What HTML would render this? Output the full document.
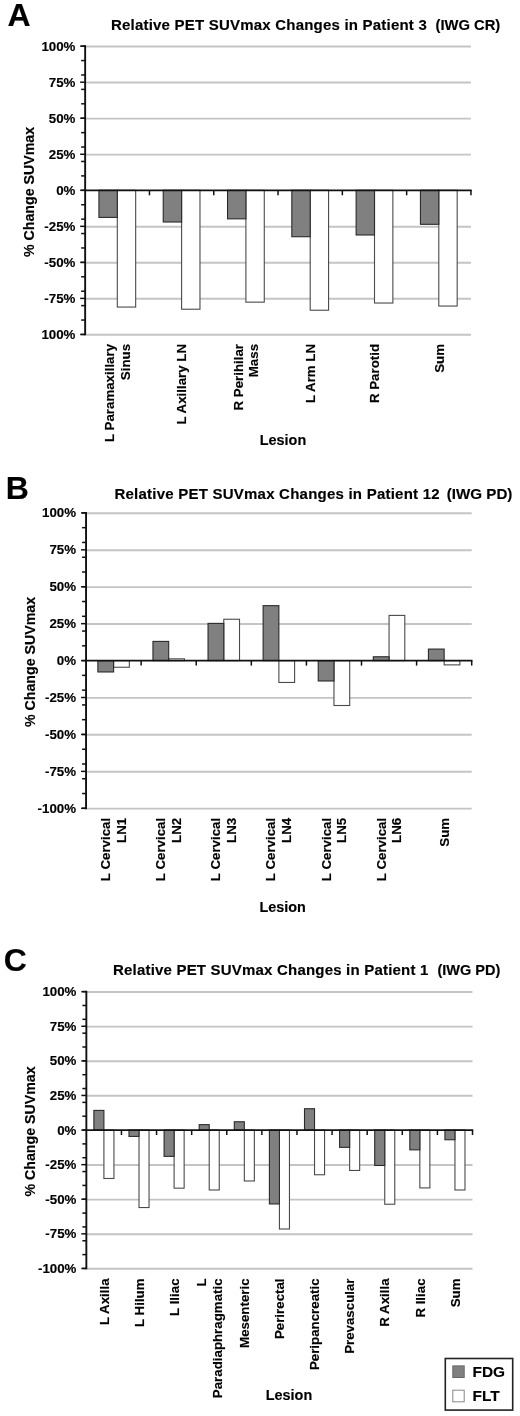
<!DOCTYPE html>
<html><head><meta charset="utf-8"><title>Relative PET SUVmax Changes</title>
<style>
html,body{margin:0;padding:0;background:#fff;}
body{width:520px;height:1416px;overflow:hidden;}
svg{display:block;font-family:"Liberation Sans", sans-serif;will-change:transform;}
svg text{fill:#000;stroke:#000;stroke-width:0.15px;}
</style></head>
<body>
<svg width="520" height="1416" viewBox="0 0 520 1416">
<rect x="0" y="0" width="520" height="1416" fill="#fff"/>
<line x1="85.15" y1="46.50" x2="470.95" y2="46.50" stroke="#c4c4c4" stroke-width="1.9"/>
<line x1="85.15" y1="82.54" x2="470.95" y2="82.54" stroke="#c4c4c4" stroke-width="1.9"/>
<line x1="85.15" y1="118.58" x2="470.95" y2="118.58" stroke="#c4c4c4" stroke-width="1.9"/>
<line x1="85.15" y1="154.61" x2="470.95" y2="154.61" stroke="#c4c4c4" stroke-width="1.9"/>
<line x1="85.15" y1="226.69" x2="470.95" y2="226.69" stroke="#c4c4c4" stroke-width="1.9"/>
<line x1="85.15" y1="262.73" x2="470.95" y2="262.73" stroke="#c4c4c4" stroke-width="1.9"/>
<line x1="85.15" y1="298.76" x2="470.95" y2="298.76" stroke="#c4c4c4" stroke-width="1.9"/>
<line x1="85.15" y1="334.80" x2="470.95" y2="334.80" stroke="#c4c4c4" stroke-width="1.9"/>
<rect x="117.30" y="190.30" width="18.37" height="116.76" fill="#ffffff" stroke="#4a4a4a" stroke-width="1.1"/>
<rect x="98.93" y="190.30" width="18.37" height="27.10" fill="#808080" stroke="#2a2a2a" stroke-width="1.1"/>
<rect x="181.60" y="190.30" width="18.37" height="118.92" fill="#ffffff" stroke="#4a4a4a" stroke-width="1.1"/>
<rect x="163.23" y="190.30" width="18.37" height="31.71" fill="#808080" stroke="#2a2a2a" stroke-width="1.1"/>
<rect x="245.90" y="190.30" width="18.37" height="111.86" fill="#ffffff" stroke="#4a4a4a" stroke-width="1.1"/>
<rect x="227.53" y="190.30" width="18.37" height="28.54" fill="#808080" stroke="#2a2a2a" stroke-width="1.1"/>
<rect x="310.20" y="190.30" width="18.37" height="119.93" fill="#ffffff" stroke="#4a4a4a" stroke-width="1.1"/>
<rect x="291.83" y="190.30" width="18.37" height="46.42" fill="#808080" stroke="#2a2a2a" stroke-width="1.1"/>
<rect x="374.50" y="190.30" width="18.37" height="112.73" fill="#ffffff" stroke="#4a4a4a" stroke-width="1.1"/>
<rect x="356.13" y="190.30" width="18.37" height="44.69" fill="#808080" stroke="#2a2a2a" stroke-width="1.1"/>
<rect x="438.80" y="190.30" width="18.37" height="115.75" fill="#ffffff" stroke="#4a4a4a" stroke-width="1.1"/>
<rect x="420.43" y="190.30" width="18.37" height="34.02" fill="#808080" stroke="#2a2a2a" stroke-width="1.1"/>
<line x1="85.15" y1="45.25" x2="85.15" y2="335.35" stroke="#111" stroke-width="1.9"/>
<line x1="81.15" y1="334.45" x2="85.15" y2="334.45" stroke="#111" stroke-width="1.5"/>
<line x1="81.15" y1="320.04" x2="85.15" y2="320.04" stroke="#111" stroke-width="1.5"/>
<line x1="81.15" y1="305.62" x2="85.15" y2="305.62" stroke="#111" stroke-width="1.5"/>
<line x1="81.15" y1="291.21" x2="85.15" y2="291.21" stroke="#111" stroke-width="1.5"/>
<line x1="81.15" y1="276.79" x2="85.15" y2="276.79" stroke="#111" stroke-width="1.5"/>
<line x1="81.15" y1="262.38" x2="85.15" y2="262.38" stroke="#111" stroke-width="1.5"/>
<line x1="81.15" y1="247.96" x2="85.15" y2="247.96" stroke="#111" stroke-width="1.5"/>
<line x1="81.15" y1="233.55" x2="85.15" y2="233.55" stroke="#111" stroke-width="1.5"/>
<line x1="81.15" y1="219.13" x2="85.15" y2="219.13" stroke="#111" stroke-width="1.5"/>
<line x1="81.15" y1="204.72" x2="85.15" y2="204.72" stroke="#111" stroke-width="1.5"/>
<line x1="81.15" y1="190.30" x2="85.15" y2="190.30" stroke="#111" stroke-width="1.5"/>
<line x1="81.15" y1="175.89" x2="85.15" y2="175.89" stroke="#111" stroke-width="1.5"/>
<line x1="81.15" y1="161.47" x2="85.15" y2="161.47" stroke="#111" stroke-width="1.5"/>
<line x1="81.15" y1="147.06" x2="85.15" y2="147.06" stroke="#111" stroke-width="1.5"/>
<line x1="81.15" y1="132.64" x2="85.15" y2="132.64" stroke="#111" stroke-width="1.5"/>
<line x1="81.15" y1="118.23" x2="85.15" y2="118.23" stroke="#111" stroke-width="1.5"/>
<line x1="81.15" y1="103.81" x2="85.15" y2="103.81" stroke="#111" stroke-width="1.5"/>
<line x1="81.15" y1="89.40" x2="85.15" y2="89.40" stroke="#111" stroke-width="1.5"/>
<line x1="81.15" y1="74.98" x2="85.15" y2="74.98" stroke="#111" stroke-width="1.5"/>
<line x1="81.15" y1="60.56" x2="85.15" y2="60.56" stroke="#111" stroke-width="1.5"/>
<line x1="81.15" y1="46.15" x2="85.15" y2="46.15" stroke="#111" stroke-width="1.5"/>
<line x1="80.15" y1="334.45" x2="85.15" y2="334.45" stroke="#111" stroke-width="1.5"/>
<line x1="80.15" y1="298.41" x2="85.15" y2="298.41" stroke="#111" stroke-width="1.5"/>
<line x1="80.15" y1="262.38" x2="85.15" y2="262.38" stroke="#111" stroke-width="1.5"/>
<line x1="80.15" y1="226.34" x2="85.15" y2="226.34" stroke="#111" stroke-width="1.5"/>
<line x1="80.15" y1="190.30" x2="85.15" y2="190.30" stroke="#111" stroke-width="1.5"/>
<line x1="80.15" y1="154.26" x2="85.15" y2="154.26" stroke="#111" stroke-width="1.5"/>
<line x1="80.15" y1="118.23" x2="85.15" y2="118.23" stroke="#111" stroke-width="1.5"/>
<line x1="80.15" y1="82.19" x2="85.15" y2="82.19" stroke="#111" stroke-width="1.5"/>
<line x1="80.15" y1="46.15" x2="85.15" y2="46.15" stroke="#111" stroke-width="1.5"/>
<line x1="85.15" y1="190.30" x2="471.70" y2="190.30" stroke="#111" stroke-width="1.8"/>
<line x1="149.45" y1="190.30" x2="149.45" y2="195.30" stroke="#111" stroke-width="1.5"/>
<line x1="213.75" y1="190.30" x2="213.75" y2="195.30" stroke="#111" stroke-width="1.5"/>
<line x1="278.05" y1="190.30" x2="278.05" y2="195.30" stroke="#111" stroke-width="1.5"/>
<line x1="342.35" y1="190.30" x2="342.35" y2="195.30" stroke="#111" stroke-width="1.5"/>
<line x1="406.65" y1="190.30" x2="406.65" y2="195.30" stroke="#111" stroke-width="1.5"/>
<line x1="470.95" y1="190.30" x2="470.95" y2="195.30" stroke="#111" stroke-width="1.5"/>
<text x="75.40" y="338.95" text-anchor="end" font-size="13.3" font-weight="bold">100%</text>
<text x="75.40" y="302.91" text-anchor="end" font-size="13.3" font-weight="bold">-75%</text>
<text x="75.40" y="266.88" text-anchor="end" font-size="13.3" font-weight="bold">-50%</text>
<text x="75.40" y="230.84" text-anchor="end" font-size="13.3" font-weight="bold">-25%</text>
<text x="75.40" y="194.80" text-anchor="end" font-size="13.3" font-weight="bold">0%</text>
<text x="75.40" y="158.76" text-anchor="end" font-size="13.3" font-weight="bold">25%</text>
<text x="75.40" y="122.73" text-anchor="end" font-size="13.3" font-weight="bold">50%</text>
<text x="75.40" y="86.69" text-anchor="end" font-size="13.3" font-weight="bold">75%</text>
<text x="75.40" y="50.65" text-anchor="end" font-size="13.3" font-weight="bold">100%</text>
<text transform="translate(34.2,192) rotate(-90)" text-anchor="middle" font-size="14.2" font-weight="bold">% Change SUVmax</text>
<text transform="translate(113.90,343.95) rotate(-90)" text-anchor="end" font-size="13.3" font-weight="bold">L Paramaxillary</text>
<text transform="translate(129.70,343.95) rotate(-90)" text-anchor="end" font-size="13.3" font-weight="bold">Sinus</text>
<text transform="translate(186.30,343.95) rotate(-90)" text-anchor="end" font-size="13.3" font-weight="bold">L Axillary LN</text>
<text transform="translate(242.50,343.95) rotate(-90)" text-anchor="end" font-size="13.3" font-weight="bold">R Perihilar</text>
<text transform="translate(258.30,343.95) rotate(-90)" text-anchor="end" font-size="13.3" font-weight="bold">Mass</text>
<text transform="translate(314.90,343.95) rotate(-90)" text-anchor="end" font-size="13.3" font-weight="bold">L Arm LN</text>
<text transform="translate(379.20,343.95) rotate(-90)" text-anchor="end" font-size="13.3" font-weight="bold">R Parotid</text>
<text transform="translate(443.50,343.95) rotate(-90)" text-anchor="end" font-size="13.3" font-weight="bold">Sum</text>
<text x="259.8" y="445.2" font-size="14.4" font-weight="bold">Lesion</text>
<text x="110.9" y="29.7" font-size="15" font-weight="bold" textLength="315.9" lengthAdjust="spacing">Relative PET SUVmax Changes in Patient 3</text>
<text x="435.5" y="29.7" font-size="15" font-weight="bold" textLength="64.8" lengthAdjust="spacingAndGlyphs">(IWG CR)</text>
<text x="7.6" y="25.9" font-size="32" font-weight="bold">A</text>
<line x1="86.05" y1="513.25" x2="471.70" y2="513.25" stroke="#c4c4c4" stroke-width="1.9"/>
<line x1="86.05" y1="550.18" x2="471.70" y2="550.18" stroke="#c4c4c4" stroke-width="1.9"/>
<line x1="86.05" y1="587.10" x2="471.70" y2="587.10" stroke="#c4c4c4" stroke-width="1.9"/>
<line x1="86.05" y1="624.03" x2="471.70" y2="624.03" stroke="#c4c4c4" stroke-width="1.9"/>
<line x1="86.05" y1="697.88" x2="471.70" y2="697.88" stroke="#c4c4c4" stroke-width="1.9"/>
<line x1="86.05" y1="734.80" x2="471.70" y2="734.80" stroke="#c4c4c4" stroke-width="1.9"/>
<line x1="86.05" y1="771.73" x2="471.70" y2="771.73" stroke="#c4c4c4" stroke-width="1.9"/>
<line x1="86.05" y1="808.65" x2="471.70" y2="808.65" stroke="#c4c4c4" stroke-width="1.9"/>
<rect x="113.60" y="660.60" width="15.74" height="6.65" fill="#ffffff" stroke="#4a4a4a" stroke-width="1.1"/>
<rect x="97.86" y="660.60" width="15.74" height="11.37" fill="#808080" stroke="#2a2a2a" stroke-width="1.1"/>
<rect x="168.69" y="658.83" width="15.74" height="1.77" fill="#ffffff" stroke="#4a4a4a" stroke-width="1.1"/>
<rect x="152.95" y="641.40" width="15.74" height="19.20" fill="#808080" stroke="#2a2a2a" stroke-width="1.1"/>
<rect x="223.78" y="619.24" width="15.74" height="41.36" fill="#ffffff" stroke="#4a4a4a" stroke-width="1.1"/>
<rect x="208.04" y="623.38" width="15.74" height="37.22" fill="#808080" stroke="#2a2a2a" stroke-width="1.1"/>
<rect x="278.87" y="660.60" width="15.74" height="21.86" fill="#ffffff" stroke="#4a4a4a" stroke-width="1.1"/>
<rect x="263.13" y="605.66" width="15.74" height="54.94" fill="#808080" stroke="#2a2a2a" stroke-width="1.1"/>
<rect x="333.97" y="660.60" width="15.74" height="44.90" fill="#ffffff" stroke="#4a4a4a" stroke-width="1.1"/>
<rect x="318.23" y="660.60" width="15.74" height="20.38" fill="#808080" stroke="#2a2a2a" stroke-width="1.1"/>
<rect x="389.06" y="615.40" width="15.74" height="45.20" fill="#ffffff" stroke="#4a4a4a" stroke-width="1.1"/>
<rect x="373.32" y="656.76" width="15.74" height="3.84" fill="#808080" stroke="#2a2a2a" stroke-width="1.1"/>
<rect x="444.15" y="660.60" width="15.74" height="4.28" fill="#ffffff" stroke="#4a4a4a" stroke-width="1.1"/>
<rect x="428.41" y="649.08" width="15.74" height="11.52" fill="#808080" stroke="#2a2a2a" stroke-width="1.1"/>
<line x1="86.05" y1="512.00" x2="86.05" y2="809.20" stroke="#111" stroke-width="1.9"/>
<line x1="82.05" y1="808.30" x2="86.05" y2="808.30" stroke="#111" stroke-width="1.5"/>
<line x1="82.05" y1="793.53" x2="86.05" y2="793.53" stroke="#111" stroke-width="1.5"/>
<line x1="82.05" y1="778.76" x2="86.05" y2="778.76" stroke="#111" stroke-width="1.5"/>
<line x1="82.05" y1="763.99" x2="86.05" y2="763.99" stroke="#111" stroke-width="1.5"/>
<line x1="82.05" y1="749.22" x2="86.05" y2="749.22" stroke="#111" stroke-width="1.5"/>
<line x1="82.05" y1="734.45" x2="86.05" y2="734.45" stroke="#111" stroke-width="1.5"/>
<line x1="82.05" y1="719.68" x2="86.05" y2="719.68" stroke="#111" stroke-width="1.5"/>
<line x1="82.05" y1="704.91" x2="86.05" y2="704.91" stroke="#111" stroke-width="1.5"/>
<line x1="82.05" y1="690.14" x2="86.05" y2="690.14" stroke="#111" stroke-width="1.5"/>
<line x1="82.05" y1="675.37" x2="86.05" y2="675.37" stroke="#111" stroke-width="1.5"/>
<line x1="82.05" y1="660.60" x2="86.05" y2="660.60" stroke="#111" stroke-width="1.5"/>
<line x1="82.05" y1="645.83" x2="86.05" y2="645.83" stroke="#111" stroke-width="1.5"/>
<line x1="82.05" y1="631.06" x2="86.05" y2="631.06" stroke="#111" stroke-width="1.5"/>
<line x1="82.05" y1="616.29" x2="86.05" y2="616.29" stroke="#111" stroke-width="1.5"/>
<line x1="82.05" y1="601.52" x2="86.05" y2="601.52" stroke="#111" stroke-width="1.5"/>
<line x1="82.05" y1="586.75" x2="86.05" y2="586.75" stroke="#111" stroke-width="1.5"/>
<line x1="82.05" y1="571.98" x2="86.05" y2="571.98" stroke="#111" stroke-width="1.5"/>
<line x1="82.05" y1="557.21" x2="86.05" y2="557.21" stroke="#111" stroke-width="1.5"/>
<line x1="82.05" y1="542.44" x2="86.05" y2="542.44" stroke="#111" stroke-width="1.5"/>
<line x1="82.05" y1="527.67" x2="86.05" y2="527.67" stroke="#111" stroke-width="1.5"/>
<line x1="82.05" y1="512.90" x2="86.05" y2="512.90" stroke="#111" stroke-width="1.5"/>
<line x1="81.05" y1="808.30" x2="86.05" y2="808.30" stroke="#111" stroke-width="1.5"/>
<line x1="81.05" y1="771.38" x2="86.05" y2="771.38" stroke="#111" stroke-width="1.5"/>
<line x1="81.05" y1="734.45" x2="86.05" y2="734.45" stroke="#111" stroke-width="1.5"/>
<line x1="81.05" y1="697.52" x2="86.05" y2="697.52" stroke="#111" stroke-width="1.5"/>
<line x1="81.05" y1="660.60" x2="86.05" y2="660.60" stroke="#111" stroke-width="1.5"/>
<line x1="81.05" y1="623.68" x2="86.05" y2="623.68" stroke="#111" stroke-width="1.5"/>
<line x1="81.05" y1="586.75" x2="86.05" y2="586.75" stroke="#111" stroke-width="1.5"/>
<line x1="81.05" y1="549.83" x2="86.05" y2="549.83" stroke="#111" stroke-width="1.5"/>
<line x1="81.05" y1="512.90" x2="86.05" y2="512.90" stroke="#111" stroke-width="1.5"/>
<line x1="86.05" y1="660.60" x2="472.45" y2="660.60" stroke="#111" stroke-width="1.8"/>
<line x1="141.14" y1="660.60" x2="141.14" y2="665.60" stroke="#111" stroke-width="1.5"/>
<line x1="196.24" y1="660.60" x2="196.24" y2="665.60" stroke="#111" stroke-width="1.5"/>
<line x1="251.33" y1="660.60" x2="251.33" y2="665.60" stroke="#111" stroke-width="1.5"/>
<line x1="306.42" y1="660.60" x2="306.42" y2="665.60" stroke="#111" stroke-width="1.5"/>
<line x1="361.51" y1="660.60" x2="361.51" y2="665.60" stroke="#111" stroke-width="1.5"/>
<line x1="416.61" y1="660.60" x2="416.61" y2="665.60" stroke="#111" stroke-width="1.5"/>
<line x1="471.70" y1="660.60" x2="471.70" y2="665.60" stroke="#111" stroke-width="1.5"/>
<text x="76.00" y="812.80" text-anchor="end" font-size="13.3" font-weight="bold">-100%</text>
<text x="76.00" y="775.88" text-anchor="end" font-size="13.3" font-weight="bold">-75%</text>
<text x="76.00" y="738.95" text-anchor="end" font-size="13.3" font-weight="bold">-50%</text>
<text x="76.00" y="702.02" text-anchor="end" font-size="13.3" font-weight="bold">-25%</text>
<text x="76.00" y="665.10" text-anchor="end" font-size="13.3" font-weight="bold">0%</text>
<text x="76.00" y="628.18" text-anchor="end" font-size="13.3" font-weight="bold">25%</text>
<text x="76.00" y="591.25" text-anchor="end" font-size="13.3" font-weight="bold">50%</text>
<text x="76.00" y="554.33" text-anchor="end" font-size="13.3" font-weight="bold">75%</text>
<text x="76.00" y="517.40" text-anchor="end" font-size="13.3" font-weight="bold">100%</text>
<text transform="translate(35,662) rotate(-90)" text-anchor="middle" font-size="14.2" font-weight="bold">% Change SUVmax</text>
<text transform="translate(110.20,817.80) rotate(-90)" text-anchor="end" font-size="13.3" font-weight="bold">L Cervical</text>
<text transform="translate(126.00,817.80) rotate(-90)" text-anchor="end" font-size="13.3" font-weight="bold">LN1</text>
<text transform="translate(165.29,817.80) rotate(-90)" text-anchor="end" font-size="13.3" font-weight="bold">L Cervical</text>
<text transform="translate(181.09,817.80) rotate(-90)" text-anchor="end" font-size="13.3" font-weight="bold">LN2</text>
<text transform="translate(220.38,817.80) rotate(-90)" text-anchor="end" font-size="13.3" font-weight="bold">L Cervical</text>
<text transform="translate(236.18,817.80) rotate(-90)" text-anchor="end" font-size="13.3" font-weight="bold">LN3</text>
<text transform="translate(275.48,817.80) rotate(-90)" text-anchor="end" font-size="13.3" font-weight="bold">L Cervical</text>
<text transform="translate(291.27,817.80) rotate(-90)" text-anchor="end" font-size="13.3" font-weight="bold">LN4</text>
<text transform="translate(330.57,817.80) rotate(-90)" text-anchor="end" font-size="13.3" font-weight="bold">L Cervical</text>
<text transform="translate(346.37,817.80) rotate(-90)" text-anchor="end" font-size="13.3" font-weight="bold">LN5</text>
<text transform="translate(385.66,817.80) rotate(-90)" text-anchor="end" font-size="13.3" font-weight="bold">L Cervical</text>
<text transform="translate(401.46,817.80) rotate(-90)" text-anchor="end" font-size="13.3" font-weight="bold">LN6</text>
<text transform="translate(448.85,817.80) rotate(-90)" text-anchor="end" font-size="13.3" font-weight="bold">Sum</text>
<text x="259.5" y="912.2" font-size="14.4" font-weight="bold">Lesion</text>
<text x="114.4" y="498.7" font-size="15" font-weight="bold" textLength="325.2" lengthAdjust="spacing">Relative PET SUVmax Changes in Patient 12</text>
<text x="446.8" y="498.7" font-size="15" font-weight="bold" textLength="65.6" lengthAdjust="spacingAndGlyphs">(IWG PD)</text>
<text x="5.8" y="499" font-size="32" font-weight="bold">B</text>
<line x1="86.35" y1="992.00" x2="472.50" y2="992.00" stroke="#c4c4c4" stroke-width="1.9"/>
<line x1="86.35" y1="1026.60" x2="472.50" y2="1026.60" stroke="#c4c4c4" stroke-width="1.9"/>
<line x1="86.35" y1="1061.20" x2="472.50" y2="1061.20" stroke="#c4c4c4" stroke-width="1.9"/>
<line x1="86.35" y1="1095.80" x2="472.50" y2="1095.80" stroke="#c4c4c4" stroke-width="1.9"/>
<line x1="86.35" y1="1165.00" x2="472.50" y2="1165.00" stroke="#c4c4c4" stroke-width="1.9"/>
<line x1="86.35" y1="1199.60" x2="472.50" y2="1199.60" stroke="#c4c4c4" stroke-width="1.9"/>
<line x1="86.35" y1="1234.20" x2="472.50" y2="1234.20" stroke="#c4c4c4" stroke-width="1.9"/>
<line x1="86.35" y1="1268.80" x2="472.50" y2="1268.80" stroke="#c4c4c4" stroke-width="1.9"/>
<rect x="103.90" y="1130.05" width="10.03" height="48.44" fill="#ffffff" stroke="#4a4a4a" stroke-width="1.1"/>
<rect x="93.87" y="1110.40" width="10.03" height="19.65" fill="#808080" stroke="#2a2a2a" stroke-width="1.1"/>
<rect x="139.01" y="1130.05" width="10.03" height="77.50" fill="#ffffff" stroke="#4a4a4a" stroke-width="1.1"/>
<rect x="128.98" y="1130.05" width="10.03" height="6.37" fill="#808080" stroke="#2a2a2a" stroke-width="1.1"/>
<rect x="174.11" y="1130.05" width="10.03" height="58.13" fill="#ffffff" stroke="#4a4a4a" stroke-width="1.1"/>
<rect x="164.08" y="1130.05" width="10.03" height="26.30" fill="#808080" stroke="#2a2a2a" stroke-width="1.1"/>
<rect x="209.22" y="1130.05" width="10.03" height="59.93" fill="#ffffff" stroke="#4a4a4a" stroke-width="1.1"/>
<rect x="199.19" y="1124.65" width="10.03" height="5.40" fill="#808080" stroke="#2a2a2a" stroke-width="1.1"/>
<rect x="244.32" y="1130.05" width="10.03" height="50.93" fill="#ffffff" stroke="#4a4a4a" stroke-width="1.1"/>
<rect x="234.29" y="1121.75" width="10.03" height="8.30" fill="#808080" stroke="#2a2a2a" stroke-width="1.1"/>
<rect x="279.43" y="1130.05" width="10.03" height="98.96" fill="#ffffff" stroke="#4a4a4a" stroke-width="1.1"/>
<rect x="269.40" y="1130.05" width="10.03" height="73.91" fill="#808080" stroke="#2a2a2a" stroke-width="1.1"/>
<rect x="314.53" y="1130.05" width="10.03" height="44.70" fill="#ffffff" stroke="#4a4a4a" stroke-width="1.1"/>
<rect x="304.50" y="1108.74" width="10.03" height="21.31" fill="#808080" stroke="#2a2a2a" stroke-width="1.1"/>
<rect x="349.63" y="1130.05" width="10.03" height="40.41" fill="#ffffff" stroke="#4a4a4a" stroke-width="1.1"/>
<rect x="339.60" y="1130.05" width="10.03" height="17.30" fill="#808080" stroke="#2a2a2a" stroke-width="1.1"/>
<rect x="384.74" y="1130.05" width="10.03" height="74.18" fill="#ffffff" stroke="#4a4a4a" stroke-width="1.1"/>
<rect x="374.71" y="1130.05" width="10.03" height="35.43" fill="#808080" stroke="#2a2a2a" stroke-width="1.1"/>
<rect x="419.84" y="1130.05" width="10.03" height="57.85" fill="#ffffff" stroke="#4a4a4a" stroke-width="1.1"/>
<rect x="409.81" y="1130.05" width="10.03" height="19.79" fill="#808080" stroke="#2a2a2a" stroke-width="1.1"/>
<rect x="454.95" y="1130.05" width="10.03" height="59.93" fill="#ffffff" stroke="#4a4a4a" stroke-width="1.1"/>
<rect x="444.92" y="1130.05" width="10.03" height="9.69" fill="#808080" stroke="#2a2a2a" stroke-width="1.1"/>
<line x1="86.35" y1="990.75" x2="86.35" y2="1269.35" stroke="#111" stroke-width="1.9"/>
<line x1="82.35" y1="1268.45" x2="86.35" y2="1268.45" stroke="#111" stroke-width="1.5"/>
<line x1="82.35" y1="1254.61" x2="86.35" y2="1254.61" stroke="#111" stroke-width="1.5"/>
<line x1="82.35" y1="1240.77" x2="86.35" y2="1240.77" stroke="#111" stroke-width="1.5"/>
<line x1="82.35" y1="1226.93" x2="86.35" y2="1226.93" stroke="#111" stroke-width="1.5"/>
<line x1="82.35" y1="1213.09" x2="86.35" y2="1213.09" stroke="#111" stroke-width="1.5"/>
<line x1="82.35" y1="1199.25" x2="86.35" y2="1199.25" stroke="#111" stroke-width="1.5"/>
<line x1="82.35" y1="1185.41" x2="86.35" y2="1185.41" stroke="#111" stroke-width="1.5"/>
<line x1="82.35" y1="1171.57" x2="86.35" y2="1171.57" stroke="#111" stroke-width="1.5"/>
<line x1="82.35" y1="1157.73" x2="86.35" y2="1157.73" stroke="#111" stroke-width="1.5"/>
<line x1="82.35" y1="1143.89" x2="86.35" y2="1143.89" stroke="#111" stroke-width="1.5"/>
<line x1="82.35" y1="1130.05" x2="86.35" y2="1130.05" stroke="#111" stroke-width="1.5"/>
<line x1="82.35" y1="1116.21" x2="86.35" y2="1116.21" stroke="#111" stroke-width="1.5"/>
<line x1="82.35" y1="1102.37" x2="86.35" y2="1102.37" stroke="#111" stroke-width="1.5"/>
<line x1="82.35" y1="1088.53" x2="86.35" y2="1088.53" stroke="#111" stroke-width="1.5"/>
<line x1="82.35" y1="1074.69" x2="86.35" y2="1074.69" stroke="#111" stroke-width="1.5"/>
<line x1="82.35" y1="1060.85" x2="86.35" y2="1060.85" stroke="#111" stroke-width="1.5"/>
<line x1="82.35" y1="1047.01" x2="86.35" y2="1047.01" stroke="#111" stroke-width="1.5"/>
<line x1="82.35" y1="1033.17" x2="86.35" y2="1033.17" stroke="#111" stroke-width="1.5"/>
<line x1="82.35" y1="1019.33" x2="86.35" y2="1019.33" stroke="#111" stroke-width="1.5"/>
<line x1="82.35" y1="1005.49" x2="86.35" y2="1005.49" stroke="#111" stroke-width="1.5"/>
<line x1="82.35" y1="991.65" x2="86.35" y2="991.65" stroke="#111" stroke-width="1.5"/>
<line x1="81.35" y1="1268.45" x2="86.35" y2="1268.45" stroke="#111" stroke-width="1.5"/>
<line x1="81.35" y1="1233.85" x2="86.35" y2="1233.85" stroke="#111" stroke-width="1.5"/>
<line x1="81.35" y1="1199.25" x2="86.35" y2="1199.25" stroke="#111" stroke-width="1.5"/>
<line x1="81.35" y1="1164.65" x2="86.35" y2="1164.65" stroke="#111" stroke-width="1.5"/>
<line x1="81.35" y1="1130.05" x2="86.35" y2="1130.05" stroke="#111" stroke-width="1.5"/>
<line x1="81.35" y1="1095.45" x2="86.35" y2="1095.45" stroke="#111" stroke-width="1.5"/>
<line x1="81.35" y1="1060.85" x2="86.35" y2="1060.85" stroke="#111" stroke-width="1.5"/>
<line x1="81.35" y1="1026.25" x2="86.35" y2="1026.25" stroke="#111" stroke-width="1.5"/>
<line x1="81.35" y1="991.65" x2="86.35" y2="991.65" stroke="#111" stroke-width="1.5"/>
<line x1="86.35" y1="1130.05" x2="473.25" y2="1130.05" stroke="#111" stroke-width="1.8"/>
<line x1="121.45" y1="1130.05" x2="121.45" y2="1135.05" stroke="#111" stroke-width="1.5"/>
<line x1="156.56" y1="1130.05" x2="156.56" y2="1135.05" stroke="#111" stroke-width="1.5"/>
<line x1="191.66" y1="1130.05" x2="191.66" y2="1135.05" stroke="#111" stroke-width="1.5"/>
<line x1="226.77" y1="1130.05" x2="226.77" y2="1135.05" stroke="#111" stroke-width="1.5"/>
<line x1="261.87" y1="1130.05" x2="261.87" y2="1135.05" stroke="#111" stroke-width="1.5"/>
<line x1="296.98" y1="1130.05" x2="296.98" y2="1135.05" stroke="#111" stroke-width="1.5"/>
<line x1="332.08" y1="1130.05" x2="332.08" y2="1135.05" stroke="#111" stroke-width="1.5"/>
<line x1="367.19" y1="1130.05" x2="367.19" y2="1135.05" stroke="#111" stroke-width="1.5"/>
<line x1="402.29" y1="1130.05" x2="402.29" y2="1135.05" stroke="#111" stroke-width="1.5"/>
<line x1="437.40" y1="1130.05" x2="437.40" y2="1135.05" stroke="#111" stroke-width="1.5"/>
<line x1="472.50" y1="1130.05" x2="472.50" y2="1135.05" stroke="#111" stroke-width="1.5"/>
<text x="76.40" y="1272.95" text-anchor="end" font-size="13.3" font-weight="bold">-100%</text>
<text x="76.40" y="1238.35" text-anchor="end" font-size="13.3" font-weight="bold">-75%</text>
<text x="76.40" y="1203.75" text-anchor="end" font-size="13.3" font-weight="bold">-50%</text>
<text x="76.40" y="1169.15" text-anchor="end" font-size="13.3" font-weight="bold">-25%</text>
<text x="76.40" y="1134.55" text-anchor="end" font-size="13.3" font-weight="bold">0%</text>
<text x="76.40" y="1099.95" text-anchor="end" font-size="13.3" font-weight="bold">25%</text>
<text x="76.40" y="1065.35" text-anchor="end" font-size="13.3" font-weight="bold">50%</text>
<text x="76.40" y="1030.75" text-anchor="end" font-size="13.3" font-weight="bold">75%</text>
<text x="76.40" y="996.15" text-anchor="end" font-size="13.3" font-weight="bold">100%</text>
<text transform="translate(35,1131.5) rotate(-90)" text-anchor="middle" font-size="14.2" font-weight="bold">% Change SUVmax</text>
<text transform="translate(108.60,1278.45) rotate(-90)" text-anchor="end" font-size="13.3" font-weight="bold">L Axilla</text>
<text transform="translate(143.71,1278.45) rotate(-90)" text-anchor="end" font-size="13.3" font-weight="bold">L Hilum</text>
<text transform="translate(178.81,1278.45) rotate(-90)" text-anchor="end" font-size="13.3" font-weight="bold">L Iliac</text>
<text transform="translate(205.82,1278.45) rotate(-90)" text-anchor="end" font-size="13.3" font-weight="bold">L</text>
<text transform="translate(221.62,1278.45) rotate(-90)" text-anchor="end" font-size="13.3" font-weight="bold">Paradiaphragmatic</text>
<text transform="translate(249.02,1278.45) rotate(-90)" text-anchor="end" font-size="13.3" font-weight="bold">Mesenteric</text>
<text transform="translate(284.12,1278.45) rotate(-90)" text-anchor="end" font-size="13.3" font-weight="bold">Perirectal</text>
<text transform="translate(319.23,1278.45) rotate(-90)" text-anchor="end" font-size="13.3" font-weight="bold">Peripancreatic</text>
<text transform="translate(354.33,1278.45) rotate(-90)" text-anchor="end" font-size="13.3" font-weight="bold">Prevascular</text>
<text transform="translate(389.44,1278.45) rotate(-90)" text-anchor="end" font-size="13.3" font-weight="bold">R Axilla</text>
<text transform="translate(424.54,1278.45) rotate(-90)" text-anchor="end" font-size="13.3" font-weight="bold">R Iliac</text>
<text transform="translate(459.65,1278.45) rotate(-90)" text-anchor="end" font-size="13.3" font-weight="bold">Sum</text>
<text x="265.8" y="1400.2" font-size="14.4" font-weight="bold">Lesion</text>
<text x="113" y="975.2" font-size="15" font-weight="bold" textLength="315.3" lengthAdjust="spacing">Relative PET SUVmax Changes in Patient 1</text>
<text x="437.4" y="975.2" font-size="15" font-weight="bold" textLength="62.9" lengthAdjust="spacingAndGlyphs">(IWG PD)</text>
<text x="3.7" y="970.7" font-size="32" font-weight="bold">C</text>
<rect x="445.3" y="1358.5" width="67.4" height="51.6" fill="#fff" stroke="#222" stroke-width="1.6"/>
<rect x="452.8" y="1365.9" width="11.4" height="11.6" fill="#808080" stroke="#666" stroke-width="1"/>
<rect x="452.8" y="1390.2" width="11.4" height="11.6" fill="#fff" stroke="#888" stroke-width="1"/>
<text x="472.5" y="1376.9" font-size="15.4" font-weight="bold">FDG</text>
<text x="472.5" y="1400.8" font-size="15.4" font-weight="bold">FLT</text>
</svg>
</body></html>
